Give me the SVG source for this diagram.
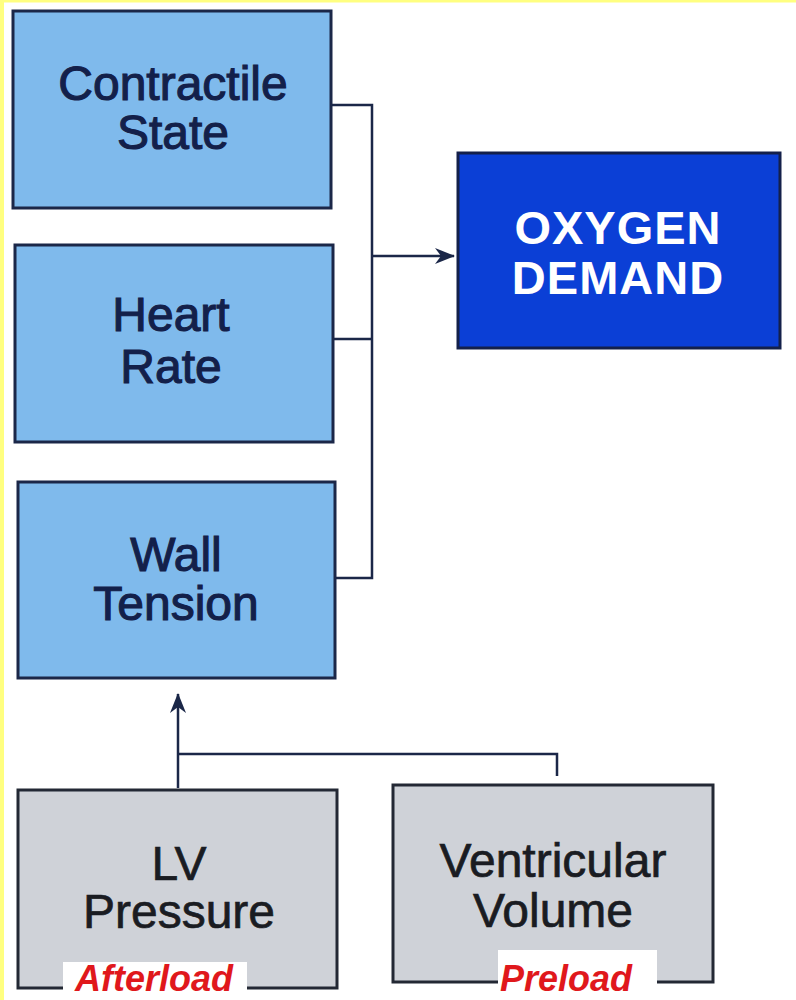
<svg xmlns="http://www.w3.org/2000/svg" width="796" height="1000" viewBox="0 0 796 1000">
<defs>
<style>
.blue{fill:#7fbaec;stroke:#1b2748;stroke-width:3}
.gray{fill:#cfd2d8;stroke:#232834;stroke-width:3}
.dark{fill:#0b3fd6;stroke:#14204a;stroke-width:3}
.t{font-family:"Liberation Sans",Arial,sans-serif;font-size:48px;text-anchor:middle}
.tb{fill:#13204a;stroke:#13204a;stroke-width:1.1}
.tg{fill:#1a1c22;stroke:#1a1c22;stroke-width:0.7}
.tw{fill:#ffffff;font-weight:bold;font-size:47px;letter-spacing:1px}
.lab{font-family:"Liberation Sans",Arial,sans-serif;font-size:36px;font-weight:bold;font-style:italic;fill:#e0181c}
.conn{fill:none;stroke:#1b2748;stroke-width:2.5}
</style>
<marker id="arr" viewBox="0 0 20 16" refX="19" refY="8" markerWidth="20" markerHeight="16" markerUnits="userSpaceOnUse" orient="auto">
<path d="M0,0 L20,8 L0,16 L6,8 Z" fill="#1b2748"/>
</marker>
</defs>
<rect x="0" y="0" width="796" height="1000" fill="#ffffff"/>
<rect x="0" y="0" width="4" height="1000" fill="#ffff80"/>
<rect x="0" y="0" width="796" height="2.5" fill="#ffff80"/>

<g id="connectors">
<path class="conn" d="M331,105 H372 V578 H335"/>
<path class="conn" d="M333,339 H372"/>
<path class="conn" d="M372,256 H454" marker-end="url(#arr)"/>
<path class="conn" d="M557,776 V754 H178"/>
<path class="conn" d="M178,788 V694" marker-end="url(#arr)"/>
</g>

<g id="contractile-state">
<rect class="blue" x="13" y="11" width="318" height="197"/>
<text class="t tb" x="173" y="100">Contractile</text>
<text class="t tb" x="173" y="149">State</text>
</g>

<g id="heart-rate">
<rect class="blue" x="15" y="245" width="318" height="197"/>
<text class="t tb" x="171" y="331">Heart</text>
<text class="t tb" x="171" y="383">Rate</text>
</g>

<g id="wall-tension">
<rect class="blue" x="18" y="482" width="317" height="196"/>
<text class="t tb" x="176" y="571">Wall</text>
<text class="t tb" x="176" y="620">Tension</text>
</g>

<g id="oxygen-demand">
<rect class="dark" x="458" y="153" width="322" height="195"/>
<text class="t tw" x="618" y="244">OXYGEN</text>
<text class="t tw" x="618" y="294">DEMAND</text>
</g>

<g id="lv-pressure">
<rect class="gray" x="18" y="790" width="319" height="198"/>
<text class="t tg" x="179" y="880">LV</text>
<text class="t tg" x="179" y="928">Pressure</text>
<rect x="63" y="962" width="184" height="38" fill="#ffffff"/>
<text class="lab" x="75" y="991">Afterload</text>
</g>

<g id="ventricular-volume">
<rect class="gray" x="393" y="785" width="320" height="197"/>
<text class="t tg" x="553" y="877">Ventricular</text>
<text class="t tg" x="553" y="927">Volume</text>
<rect x="498" y="950" width="159" height="50" fill="#ffffff"/>
<text class="lab" x="500" y="991">Preload</text>
</g>
</svg>
